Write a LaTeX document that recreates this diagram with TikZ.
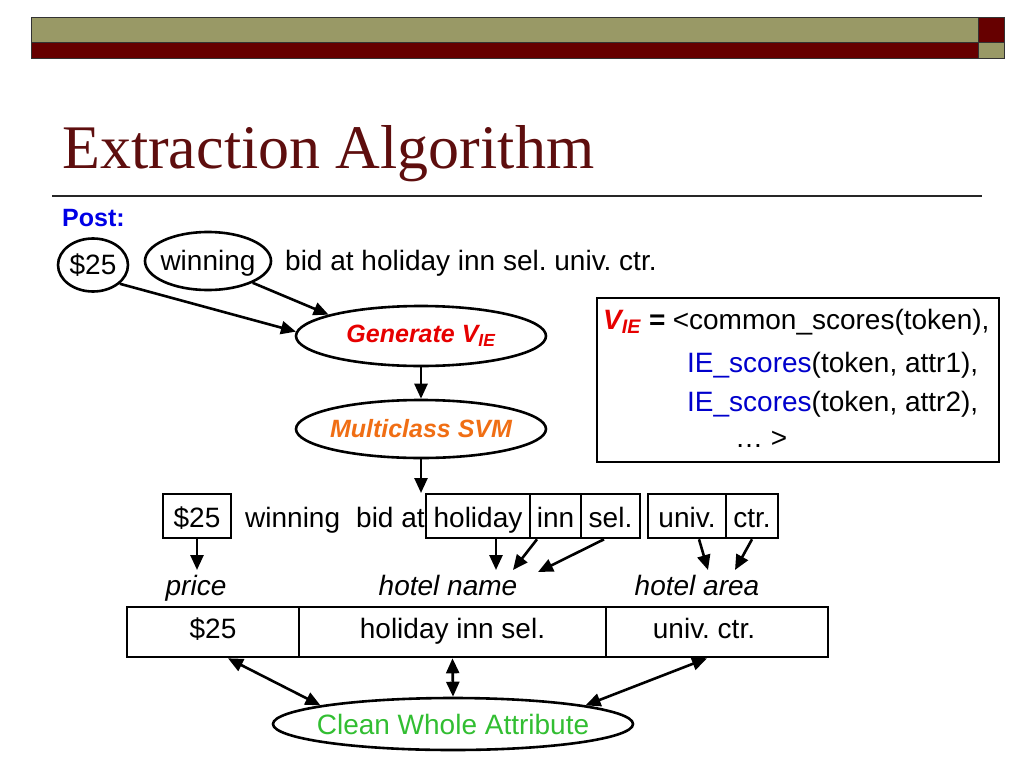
\documentclass[tikz,border=0pt]{standalone}
\usepackage{fontspec}
\setmainfont{Liberation Sans}
\newfontfamily\titlefont{Liberation Serif}
\usetikzlibrary{shapes.geometric, arrows.meta}
\frenchspacing
\definecolor{barolive}{RGB}{153,153,102}
\definecolor{barred}{RGB}{102,0,0}
\definecolor{titlered}{RGB}{94,14,14}
\definecolor{postblue}{RGB}{0,0,230}
\definecolor{scoreblue}{RGB}{0,0,204}
\definecolor{genred}{RGB}{230,0,0}
\definecolor{svmorange}{RGB}{240,110,20}
\definecolor{cleangreen}{RGB}{50,190,50}
\tikzstyle{txt}=[inner sep=0, font=\fontsize{28}{34}\selectfont]
\tikzstyle{ovaltxt}=[inner sep=0, text height=20pt, text depth=2pt, font=\fontsize{28}{34}\selectfont]
\tikzstyle{lbl}=[inner sep=0, font=\itshape\fontsize{28}{34}\selectfont]
\tikzstyle{boldlbl}=[inner sep=0, font=\bfseries\itshape\fontsize{25}{30}\selectfont]
\tikzstyle{oval}=[ellipse, draw, line width=2.6pt, inner sep=0]
\tikzstyle{tok}=[draw, line width=2.6pt, inner sep=0, minimum height=44pt, text height=22pt, text depth=0pt, font=\fontsize{28}{34}\selectfont]
\tikzstyle{cell}=[draw, line width=2.6pt, inner sep=0, minimum height=50pt, text height=20pt, text depth=8pt, font=\fontsize{28}{34}\selectfont]
\tikzstyle{arr}=[-{Triangle[length=15pt,width=13pt]}, line width=2.6pt]
\tikzstyle{darr}=[{Triangle[length=15pt,width=13pt]}-{Triangle[length=15pt,width=13pt]}, line width=2.6pt]

\begin{document}
\begin{tikzpicture}[x = 1pt, y = -1pt]
\useasboundingbox (0,0) rectangle (1024,768);
% Header bars
    \draw[fill=barolive, draw=black!80, line width=0.8pt] (31,17) rectangle (978,42);
    \draw[fill=barred, draw=black!80, line width=0.8pt] (31,42) rectangle (978,58);
    \draw[fill=barred, draw=black!80, line width=0.8pt] (978,17) rectangle (1004,42);
    \draw[fill=barolive, draw=black!80, line width=0.8pt] (978,42) rectangle (1004,58);
% Title
    \node[anchor=base west, inner sep=0, text=titlered, font=\titlefont\fontsize{62}{70}\selectfont] (title) at (62,168) {Extraction Algorithm};
    \draw[line width=1.2pt, black!85] (52,196) -- (982,196);
% Post
    \node[txt, anchor=base west, text=postblue, font=\bfseries\fontsize{25}{30}\selectfont] (post) at (62,226) {Post:};
    \node[oval, minimum width=70pt, minimum height=53pt, label={[ovaltxt]center:\$25}] (dollar) at (93,265) {};
    \node[oval, minimum width=126pt, minimum height=58pt, label={[ovaltxt]center:winning}] (win) at (208,261) {};
    \node[txt, anchor=base west] (rest) at (285,270) {bid at holiday inn sel. univ. ctr.};
% Classifier
    \node[oval, minimum width=250pt, minimum height=60pt, label={[boldlbl, text=genred]center:Generate V\textsubscript{IE}}] (gen) at (421,336) {};
    \node[oval, minimum width=250pt, minimum height=58pt, label={[boldlbl, text=svmorange]center:Multiclass SVM}] (svm) at (421,429) {};
    \coordinate (tokin) at (421,493);
    \draw[arr] (dollar.-35) -- (gen.178);
    \draw[arr] (win.-26) -- (gen.167);
    \draw[arr] (gen) -- (svm);
    \draw[arr] (svm) -- (tokin);
% Feature vector
    \node[draw, line width=2.6pt, minimum width=402pt, minimum height=164pt] (vbox) at (798,380) {};
    \node[txt, anchor=base west] (vline1) at (603,329) {\textcolor{genred}{\bfseries\itshape V\textsubscript{IE}} {\bfseries\itshape =} <common\_scores(token),};
    \node[txt, anchor=base west] (vline2) at (687,372) {\textcolor{scoreblue}{IE\_scores}(token, attr1),};
    \node[txt, anchor=base west] (vline3) at (687,411) {\textcolor{scoreblue}{IE\_scores}(token, attr2),};
    \node[txt, anchor=base west] (vline4) at (735,447) {… >};
% Tokens
    \node[tok, minimum width=68pt] (tPrice) at (197,516) {\$25};
    \node[txt, anchor=base west] (wWinning) at (245,527) {winning};
    \node[txt, anchor=base west] (wBidAt) at (356,527) {bid at};
    \node[tok, minimum width=104pt] (tHoliday) at (478,516) {holiday};
    \node[tok, minimum width=51pt] (tInn) at (555.5,516) {inn};
    \node[tok, minimum width=59pt] (tSel) at (610.5,516) {sel.};
    \node[tok, minimum width=78pt] (tUniv) at (687,516) {univ.};
    \node[tok, minimum width=52pt] (tCtr) at (752,516) {ctr.};
% Attribute labels
    \node[lbl, anchor=base] (lPrice) at (196,595) {price};
    \node[lbl, anchor=base] (lName) at (448,595) {hotel name};
    \node[lbl, anchor=base] (lArea) at (697,595) {hotel area};
    \coordinate (pTip) at (197,570);
    \coordinate (nTip1) at (496,570);
    \coordinate (nTip2) at (513,570);
    \coordinate (nTip3) at (538,572);
    \coordinate (aTip1) at (708,570);
    \coordinate (aTip2) at (735,570);
    \draw[arr] (tPrice) -- (pTip);
    \draw[arr] ([xshift=18pt]tHoliday.south) -- (nTip1);
    \draw[arr] ([xshift=-18.5pt]tInn.south) -- (nTip2);
    \draw[arr] ([xshift=-6.5pt]tSel.south) -- (nTip3);
    \draw[arr] ([xshift=12pt]tUniv.south) -- (aTip1);
    \draw[arr] (tCtr.south) -- (aTip2);
% Record
    \node[cell, minimum width=172pt] (cPrice) at (213,632) {\$25};
    \node[cell, minimum width=307pt] (cName) at (452.5,632) {holiday inn sel.};
    \node[cell, minimum width=222pt] (cArea) at (717,632) {univ. ctr.\hspace*{26pt}};
% Cleaning
    \node[oval, minimum width=360pt, minimum height=52pt, label={[txt, text=cleangreen]center:Clean Whole Attribute}] (clean) at (453,724) {};
    \draw[darr] ([xshift=15pt]cPrice.south) -- (clean.172);
    \draw[darr] (cName.south) -- (clean.north);
    \draw[darr] ([xshift=-10pt]cArea.south) -- (clean.8);
\end{tikzpicture}
\end{document}
